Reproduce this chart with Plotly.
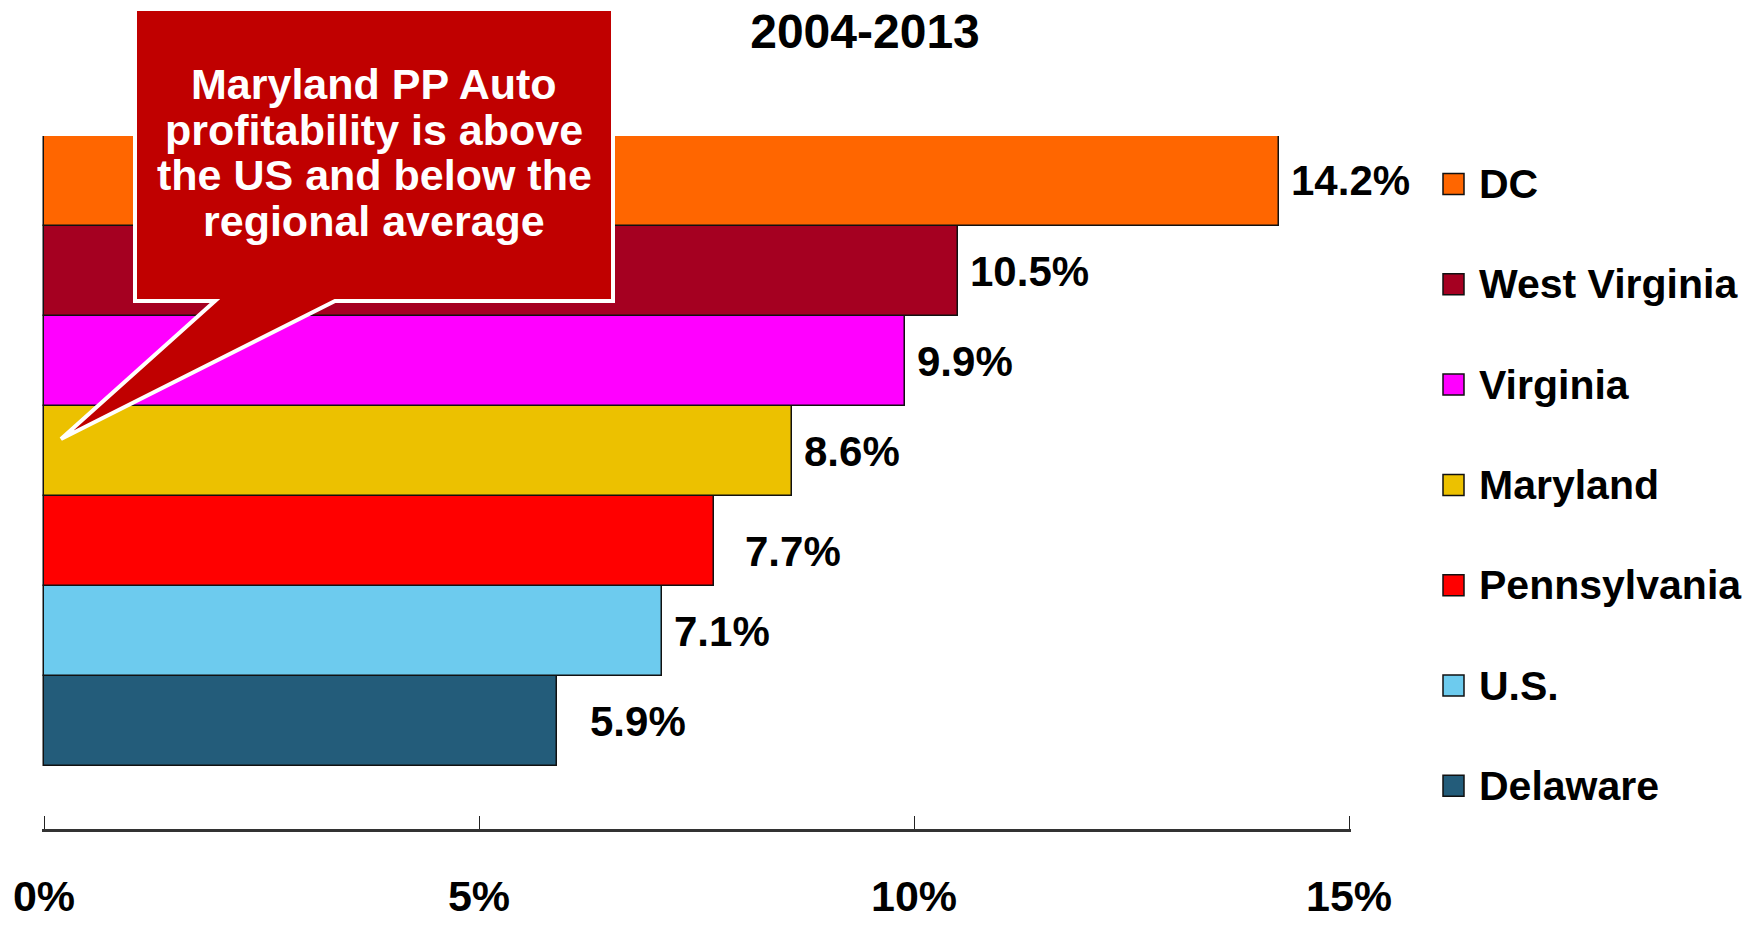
import plotly.graph_objects as go

# Profitability by jurisdiction, 2004-2013 (bottom to top on the chart)
states = ["Delaware", "U.S.", "Pennsylvania", "Maryland", "Virginia", "West Virginia", "DC"]
profit = [5.9, 7.1, 7.7, 8.6, 9.9, 10.5, 14.2]
colors = ["#235C7A", "#6DCBEE", "#FF0000", "#ECC100", "#FF00FF", "#A50021", "#FF6600"]
label_dx = [31, 10, 29, 10, 10, 10, 10]
label_dy = [0, 0, -10, 0, 0, 0, 0]

x_ticks = [0, 5, 10, 15]
title_text = "2004-2013"
callout_lines = ["Maryland PP Auto", "profitability is above",
                 "the US and below the", "regional average"]

W, H = 1750, 926
FONT = "Arial"


def px(x):
    return x / W


def py(y):
    return 1 - y / H


fig = go.Figure()
for i, (name, v, c) in enumerate(zip(states, profit, colors)):
    fig.add_trace(go.Bar(
        x=[v], y=[i], name=name, orientation="h", width=1,
        marker=dict(color=c, line=dict(color="#111111", width=1.5)),
        showlegend=False, hoverinfo="x+name",
    ))

annotations = []
# value labels at the end of each bar
for i, v in enumerate(profit):
    annotations.append(dict(
        x=v, y=i, xref="x", yref="y", text=f"<b>{v:.1f}%</b>",
        showarrow=False, xanchor="left", yanchor="middle",
        xshift=label_dx[i], yshift=label_dy[i],
        font=dict(family=FONT, size=42, color="black"),
    ))

# legend, top entry first
shapes = []
leg_top, leg_step = 184, 100.3
for k, i in enumerate(reversed(range(len(states)))):
    yc = leg_top + k * leg_step
    shapes.append(dict(
        type="rect", xref="paper", yref="paper",
        x0=px(1443), x1=px(1464), y0=py(yc - 10.5), y1=py(yc + 10.5),
        fillcolor=colors[i], line=dict(color="#111111", width=1.5), layer="above",
    ))
    annotations.append(dict(
        x=px(1477), y=py(yc), xref="paper", yref="paper",
        text=f"<b>{states[i]}</b>", showarrow=False,
        xanchor="left", yanchor="middle",
        font=dict(family=FONT, size=41, color="black"),
    ))

# speech-bubble callout
bubble = [(135, 9), (613, 9), (613, 301), (335, 301), (61, 439), (215, 301), (135, 301)]
path = "M " + " L ".join(f"{px(x):.5f},{py(y):.5f}" for x, y in bubble) + " Z"
shapes.append(dict(
    type="path", xref="paper", yref="paper", path=path,
    fillcolor="#C00000", line=dict(color="white", width=4), layer="above",
))
for j, line in enumerate(callout_lines):
    annotations.append(dict(
        x=px(374), y=py(84 + j * 45.7), xref="paper", yref="paper",
        text=f"<b>{line}</b>", showarrow=False,
        xanchor="center", yanchor="middle",
        font=dict(family=FONT, size=43, color="white"),
    ))

fig.update_layout(
    width=W, height=H,
    margin=dict(l=0, r=0, t=0, b=0, autoexpand=False),
    paper_bgcolor="white", plot_bgcolor="white",
    barmode="overlay", bargap=0,
    showlegend=False,
    title=dict(
        text=f"<b>{title_text}</b>", x=px(865), y=py(31),
        xanchor="center", yanchor="middle",
        font=dict(family=FONT, size=48, color="black"),
    ),
    xaxis=dict(
        domain=[px(42), px(1351)], range=[-0.023, 15.023],
        tickvals=x_ticks, ticktext=[f"<b>{t}%</b>" for t in x_ticks],
        ticks="inside", ticklen=13, tickwidth=1.2, tickcolor="#222222",
        showline=True, linecolor="#333333", linewidth=2.5,
        showgrid=False, zeroline=False, automargin=False,
        tickfont=dict(family=FONT, size=43, color="black"),
        ticklabelstandoff=28,
    ),
    yaxis=dict(
        domain=[py(829), py(136)], range=[-1.2, 6.5],
        showticklabels=False, showgrid=False, zeroline=False,
        showline=False, ticks="", automargin=False,
    ),
    shapes=shapes,
    annotations=annotations,
)

fig.write_html("out.html")
